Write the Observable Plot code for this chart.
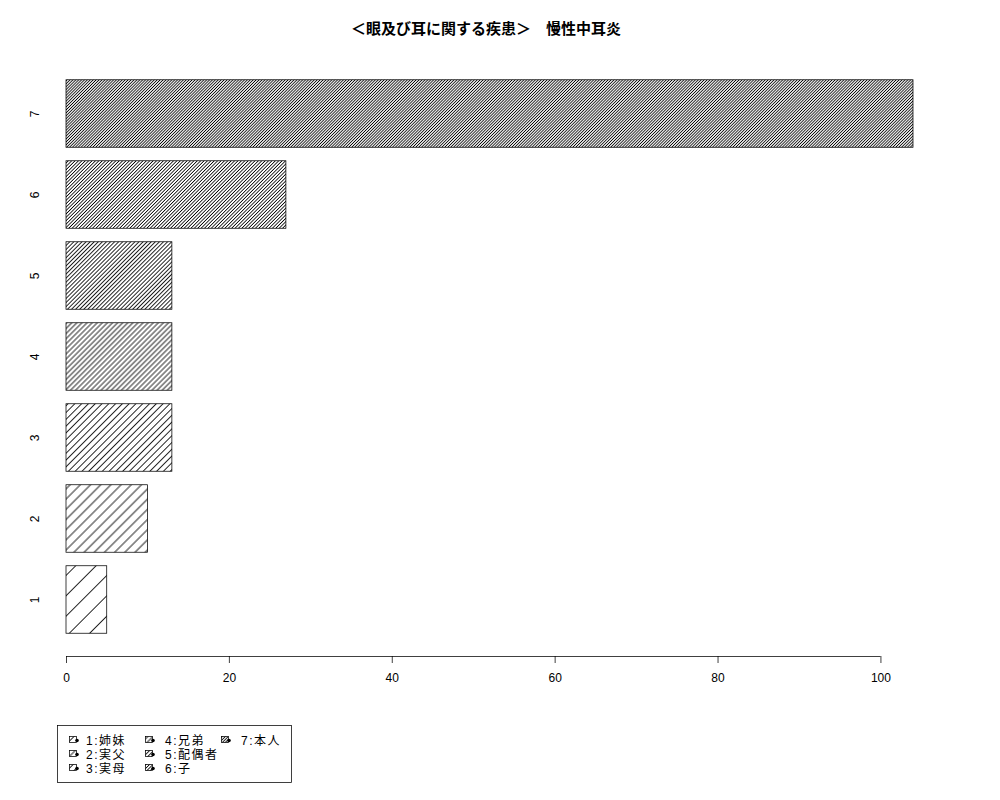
<!DOCTYPE html>
<html><head><meta charset="utf-8">
<script src="https://cdn.jsdelivr.net/npm/d3@7"></script>
<script src="https://cdn.jsdelivr.net/npm/@observablehq/plot@0.6"></script>
<style>
body{margin:0;background:#fff}
#wrap{position:relative;width:1000px;height:800px;font-family:"Liberation Sans","Noto Sans CJK JP",sans-serif;color:#000}
#title{position:absolute;left:0;width:972px;top:21px;text-align:center;font-weight:bold;font-size:15px;line-height:16px;font-family:"Liberation Sans","Noto Sans CJK JP",sans-serif}
#chart{position:absolute;left:0;top:0}
#legend{position:absolute;left:56px;top:724px}
</style></head><body>
<div id="wrap"><div id="chart"></div><div id="title"></div><svg id="legend" width="240" height="62"></svg></div>
<script>
const title = "＜眼及び耳に関する疾患＞　慢性中耳炎";
const categories = ["1","2","3","4","5","6","7"];
const values = [5, 10, 13, 13, 13, 27, 104];
const densities = [5, 10, 15, 20, 25, 30, 35]; // hatch lines per inch
const legendLabels = ["1:姉妹","2:実父","3:実母","4:兄弟","5:配偶者","6:子","7:本人"];
const xTicks = [0, 20, 40, 60, 80, 100];

document.getElementById("title").textContent = title;

const data = categories.map((c, i) => ({cat: c, value: values[i], fill: `url(#hatch${c})`}));

const chart = Plot.plot({
  width: 1000,
  height: 800,
  marginLeft: 66,
  marginRight: 87,
  marginTop: 57,
  marginBottom: 144,
  style: {fontFamily: '"Liberation Sans","Noto Sans CJK JP",sans-serif', fontSize: "12px", background: "transparent", overflow: "visible"},
  x: {domain: [0, 104], axis: null},
  y: {type: "band", domain: categories.slice().reverse(), paddingInner: 1/6, paddingOuter: 0.281, round: false, axis: null},
  color: {type: "identity"},
  marks: [
    Plot.barX(data, {x: "value", y: "cat", fill: "fill", stroke: "black", strokeWidth: 0.75}),
    Plot.axisX(xTicks, {anchor: "bottom", label: null, tickSize: 7, tickPadding: 10, fontSize: 12, tickFormat: d => String(d), strokeWidth: 0.75}),
    Plot.text(categories, {y: d => d, text: d => d, frameAnchor: "left", dx: -31, rotate: -90, fontSize: 12, textAnchor: "middle", lineAnchor: "middle"})
  ]
});
document.getElementById("chart").appendChild(chart);

function addPatterns(sel, prefix) {
  const defs = sel.insert("defs", ":first-child");
  categories.forEach((c, i) => {
    const d = 72 / densities[i];
    const p = defs.append("pattern").attr("id", prefix + c)
      .attr("patternUnits", "userSpaceOnUse")
      .attr("width", d).attr("height", d)
      .attr("patternTransform", "rotate(45)");
    p.append("line").attr("x1", d / 2).attr("x2", d / 2).attr("y1", -1).attr("y2", d + 1)
      .attr("stroke", "black").attr("stroke-width", 0.85);
  });
}
const svg = d3.select(chart);
addPatterns(svg, "hatch");

// axis line from first to last tick
const xs = chart.scale("x");
const yAxis = 800 - 144 + 0.5;
svg.append("line")
  .attr("x1", xs.apply(xTicks[0])).attr("x2", xs.apply(xTicks[xTicks.length - 1]))
  .attr("y1", yAxis).attr("y2", yAxis)
  .attr("stroke", "black").attr("stroke-width", 0.75);

// legend
const lg = d3.select("#legend");
addPatterns(lg, "lhatch");
lg.append("rect").attr("x", 1.5).attr("y", 1.5).attr("width", 234).attr("height", 57)
  .attr("fill", "none").attr("stroke", "black").attr("stroke-width", 0.75);
const colSwatch = [13, 89, 165];
const colText = [30, 109, 185];
const rowY = [16, 30, 44];
legendLabels.forEach((lab, i) => {
  const col = Math.floor(i / 3), row = i % 3;
  const sx = colSwatch[col], cy = rowY[row];
  lg.append("rect").attr("x", sx + 0.5).attr("y", cy - 3.5).attr("width", 7).attr("height", 6)
    .attr("fill", `url(#lhatch${categories[i]})`).attr("stroke", "black").attr("stroke-width", 0.75);
  lg.append("circle").attr("cx", sx + 8).attr("cy", cy + 0.5).attr("r", 1.8).attr("fill", "black");
  lg.append("text").attr("x", colText[col]).attr("y", cy + 4.5)
    .attr("font-size", 12).attr("letter-spacing", "1.5px")
    .attr("font-family", '"Liberation Sans","Noto Sans CJK JP",sans-serif')
    .text(lab);
});
</script>
</body></html>
